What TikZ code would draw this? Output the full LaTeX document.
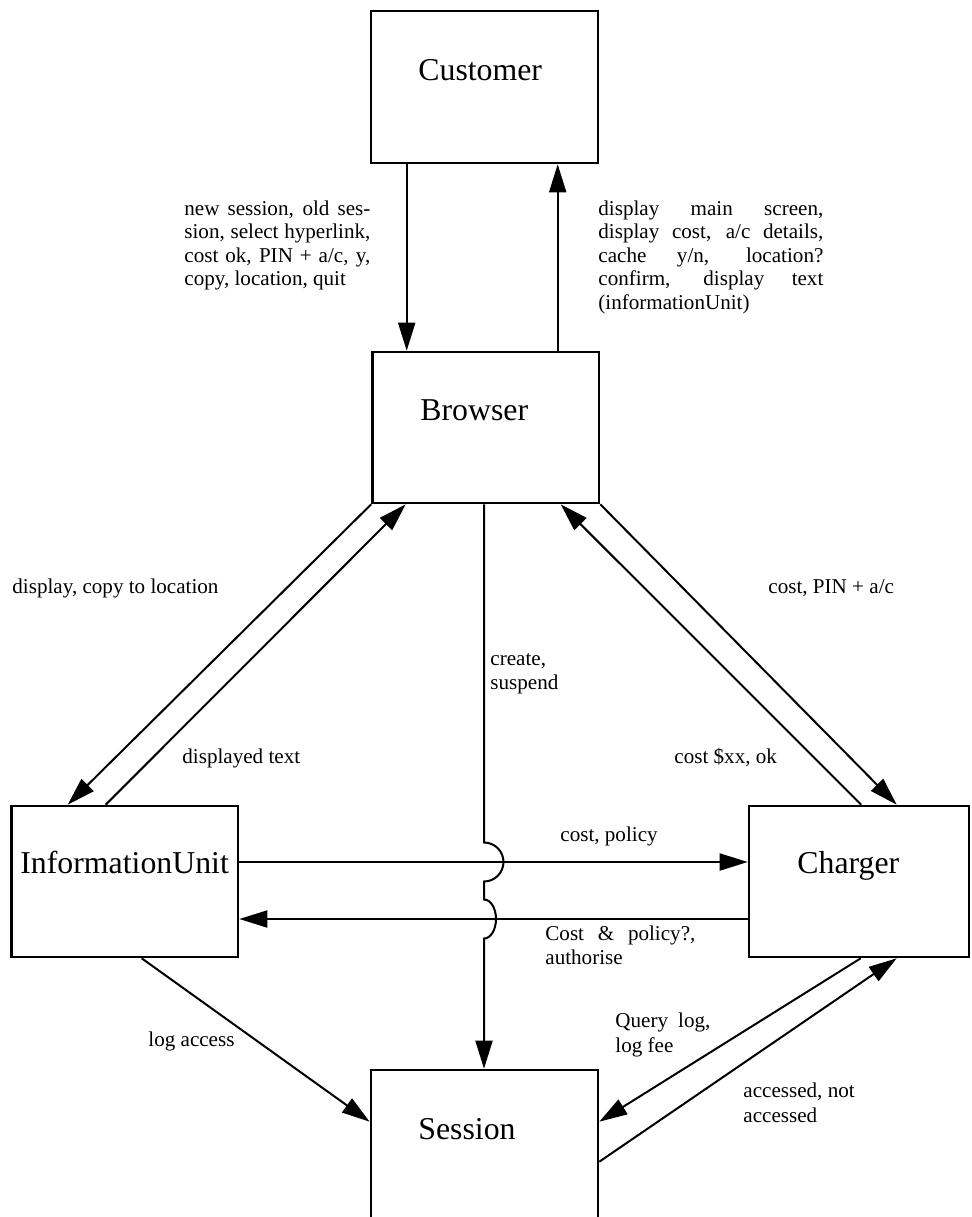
\documentclass[tikz,border=0pt]{standalone}
\usepackage{fontspec}
\setmainfont{Liberation Serif}
\usetikzlibrary{arrows.meta}
\begin{document}
\begin{tikzpicture}[x=0.5pt,y=-0.5pt,
  box/.style={draw, line width=1.3pt, inner sep=0pt},
  boxlabel/.style={font=\fontsize{15.9pt}{18pt}\selectfont, inner sep=0pt, anchor=base west},
  lbl/.style={font=\fontsize{10.55pt}{11.75pt}\selectfont, inner sep=0pt, anchor=base west},
  arr/.style={line width=1pt, -{Triangle[length=14pt,width=8.5pt]}}]
\useasboundingbox (0,0) rectangle (972,1217);
\clip (0,0) rectangle (972,1217);

% components
\node[box, minimum width=113.5pt, minimum height=76pt]   (C)  at (484.5,87)     {};
\node[box, minimum width=113.25pt, minimum height=75.5pt] (B)  at (485.75,427.5) {};
\node[box, minimum width=113.25pt, minimum height=75.5pt] (I)  at (124.75,881.5) {};
\node[box, minimum width=110pt, minimum height=75.5pt]    (Ch) at (859,881.5)    {};
\node[box, minimum width=113.5pt, minimum height=75.5pt]  (S)  at (484.5,1145.5) {};

\node[boxlabel] (Ct) at (418,80)   {Customer};
\node[boxlabel] (Bt) at (420,420)  {Browser};
\node[boxlabel] (It) at (20,873)   {InformationUnit};
\node[boxlabel] (Cht) at (797,873) {Charger};
\node[boxlabel] (St) at (418,1139) {Session};

% customer <-> browser
\draw[arr] ([xshift=18.5pt]C.south west) -- ([xshift=18.5pt]C.south west |- B.north);
\draw[arr] ([xshift=93.25pt]B.north west) -- ([xshift=93.25pt]B.north west |- C.south);

% browser <-> information unit
\draw[arr] (B.south west) -- ([xshift=28.75pt]I.north west);
\draw[arr] ([xshift=47.75pt]I.north west) -- ([xshift=17.25pt]B.south west);

% browser <-> charger
\draw[arr] (B.south east) -- ([xshift=74.5pt]Ch.north west);
\draw[arr] ([xshift=56.75pt]Ch.north west) -- ([xshift=94.75pt]B.south west);

% browser -> session, hopping over the two horizontal flows
\coordinate (h1) at (484,862);
\coordinate (h2) at (484,919);
\draw[arr] (B.south -| h1) -- ([yshift=9.75pt]h1)
  arc[start angle=90, end angle=-90, radius=9.75pt]
  -- ([yshift=9.75pt]h2)
  arc[start angle=90, end angle=-90, x radius=6pt, y radius=9.75pt]
  -- (S.north -| h1);

% information unit <-> charger
\draw[arr] (I.east |- h1) -- (Ch.west |- h1);
\draw[arr] (Ch.west |- h2) -- (I.east |- h2);

% session links
\draw[arr] ([xshift=65.75pt]I.south west) -- ([yshift=-26.5pt]S.north west);
\draw[arr] ([xshift=56.5pt]Ch.south west) -- ([yshift=-26.5pt]S.north east);
\draw[arr] ([yshift=-46.5pt]S.north east) -- ([xshift=74.5pt]Ch.south west);

% flow labels
\node[lbl] (l1) at (184,215) {\vtop{\baselineskip=11.75pt
  \hbox to 93pt{new session, old ses-}
  \hbox to 93pt{sion, select hyperlink,}
  \hbox to 93pt{cost ok, PIN + a/c, y,}
  \hbox{copy, location, quit}}};
\node[lbl] (l2) at (598,215) {\vtop{\baselineskip=11.75pt
  \hbox to 112.5pt{display main screen,}
  \hbox to 112.5pt{display cost, a/c details,}
  \hbox to 112.5pt{cache y/n, location?}
  \hbox to 112.5pt{confirm, display text}
  \hbox{(informationUnit)}}};
\node[lbl] (l3) at (12,593)  {display, copy to location};
\node[lbl] (l4) at (182,763) {displayed text};
\node[lbl] (l5) at (490,665) {\vtop{\baselineskip=12pt
  \hbox{create,}\hbox{suspend}}};
\node[lbl] (l6) at (768,593) {cost, PIN + a/c};
\node[lbl] (l7) at (674,763) {cost \$xx, ok};
\node[lbl] (l8) at (560,841) {cost, policy};
\node[lbl] (l9) at (545,940) {\vtop{\baselineskip=12pt
  \hbox to 75pt{Cost \& policy?,}\hbox{authorise}}};
\node[lbl] (l10) at (615,1027) {\vtop{\baselineskip=12.5pt
  \hbox to 47.5pt{Query log,}\hbox{log fee}}};
\node[lbl] (l11) at (743,1097) {\vtop{\baselineskip=12.5pt
  \hbox{accessed, not}\hbox{accessed}}};
\node[lbl] (l12) at (148,1046) {log access};
\end{tikzpicture}
\end{document}
